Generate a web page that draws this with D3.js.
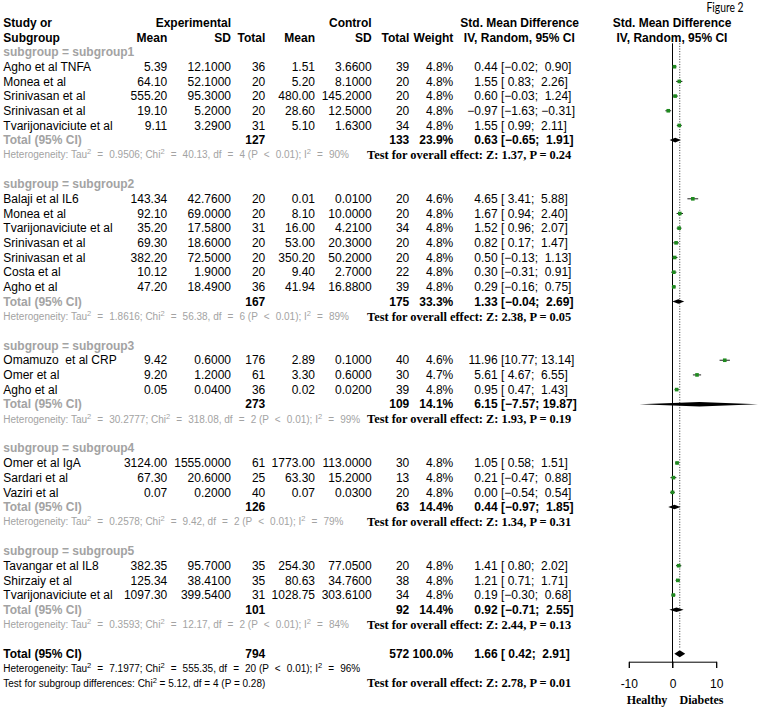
<!DOCTYPE html>
<html><head><meta charset="utf-8">
<script src="https://cdn.jsdelivr.net/npm/d3@7"></script>
<style>body{margin:0;background:#fff}svg{display:block}text{white-space:pre}</style>
</head><body><svg id="c" width="758" height="709"></svg>
<script>
// ---------- data ----------
const subgroups = ["subgroup1","subgroup2","subgroup3","subgroup4","subgroup5"];
const studies = ["Agho et al TNFA","Monea et al","Srinivasan et al","Srinivasan et al","Tvarijonaviciute et al",
  "Balaji et al IL6","Monea et al","Tvarijonaviciute et al","Srinivasan et al","Srinivasan et al","Costa et al","Agho et al",
  "Omamuzo  et al CRP","Omer et al","Agho et al",
  "Omer et al IgA","Sardari et al","Vaziri et al",
  "Tavangar et al IL8","Shirzaiy et al","Tvarijonaviciute et al"];
const studyGroup = [0,0,0,0,0, 1,1,1,1,1,1,1, 2,2,2, 3,3,3, 4,4,4];
const expMean = [5.39,64.10,555.20,19.10,9.11, 143.34,92.10,35.20,69.30,382.20,10.12,47.20, 9.42,9.20,0.05, 3124.00,67.30,0.07, 382.35,125.34,1097.30];
const expSD = [12.1,52.1,95.3,5.2,3.29, 42.76,69.0,17.58,18.6,72.5,1.9,18.49, 0.6,1.2,0.04, 1555.0,20.6,0.2, 95.7,38.41,399.54];
const expN = [36,20,20,20,31, 20,20,31,20,20,20,36, 176,61,36, 61,25,40, 35,35,31];
const ctlMean = [1.51,5.20,480.00,28.60,5.10, 0.01,8.10,16.00,53.00,350.20,9.40,41.94, 2.89,3.30,0.02, 1773.00,63.30,0.07, 254.30,80.63,1028.75];
const ctlSD = [3.66,8.1,145.2,12.5,1.63, 0.01,10.0,4.21,20.3,50.2,2.7,16.88, 0.1,0.6,0.02, 113.0,15.2,0.03, 77.05,34.76,303.61];
const ctlN = [39,20,20,20,34, 20,20,34,20,20,22,39, 40,30,39, 30,13,20, 20,38,34];
const weight = [4.8,4.8,4.8,4.8,4.8, 4.6,4.8,4.8,4.8,4.8,4.8,4.8, 4.6,4.7,4.8, 4.8,4.8,4.8, 4.8,4.8,4.8];
const smd = [0.44,1.55,0.60,-0.97,1.55, 4.65,1.67,1.52,0.82,0.50,0.30,0.29, 11.96,5.61,0.95, 1.05,0.21,0.00, 1.41,1.21,0.19];
const ciLow = [-0.02,0.83,-0.03,-1.63,0.99, 3.41,0.94,0.96,0.17,-0.13,-0.31,-0.16, 10.77,4.67,0.47, 0.58,-0.47,-0.54, 0.80,0.71,-0.30];
const ciHigh = [0.90,2.26,1.24,-0.31,2.11, 5.88,2.40,2.07,1.47,1.13,0.91,0.75, 13.14,6.55,1.43, 1.51,0.88,0.54, 2.02,1.71,0.68];

const sgExpN = [127,167,273,126,101];
const sgCtlN = [133,175,109,63,92];
const sgWeight = [23.9,33.3,14.1,14.4,14.4];
const sgSmd = [0.63,1.33,6.15,0.44,0.92];
const sgLow = [-0.65,-0.04,-7.57,-0.97,-0.71];
const sgHigh = [1.91,2.69,19.87,1.85,2.55];
const sgTau2 = ["0.9506","1.8616","30.2777","0.2578","0.3593"];
const sgChi2 = ["40.13","56.38","318.08","9.42","12.17"];
const sgDf = [4,6,2,2,2];
const sgI2 = [90,89,99,79,84];
const sgZ = ["1.37","2.38","1.93","1.34","2.44"];
const sgP = ["0.24","0.05","0.19","0.31","0.13"];

const totalExpN = 794, totalCtlN = 572, totalWeight = 100.0;
const totalSmd = 1.66, totalLow = 0.42, totalHigh = 2.91;
const totalTau2 = "7.1977", totalChi2 = "555.35", totalDf = 20, totalI2 = 96;
const totalZ = "2.78", totalP = "0.01";
const diffChi2 = "5.12", diffDf = 4, diffP = "0.28";

const axisTicks = [-10, 0, 10];
const axisLabels = ["Healthy", "Diabetes"];

// ---------- layout ----------
const svg = d3.select("#c");
const SANS = "'Liberation Sans', Arial, Helvetica, sans-serif";
const SERIF = "'Liberation Serif', 'Times New Roman', serif";
const GRAY = "#a3a3a3";
const y = d3.scaleLinear().domain([0, 45]).range([22.7, 683.1]);
const x = d3.scaleLinear().domain([-10, 10]).range([628.8, 716.2]);

const col = {label:3.3, expMean:167.3, expSD:231, expN:265.3, ctlMean:315, ctlSD:371.7, ctlN:409.3, weight:453.3, est:497.7, ci:501, test:367};

const f2 = d3.format(".2f"), f4 = d3.format(".4f"), f1 = d3.format(".1f");
const pad = v => { const s = f2(v); return s.length < 5 ? " " + s : s; };
const ciStr = (lo, hi) => "[" + pad(lo) + "; " + pad(hi) + "]";

function txt(xp, r, s, o = {}) {
  return svg.append("text").attr("x", xp).attr("y", y(r)).attr("dy", "0.35em")
    .attr("text-anchor", o.anchor || "start")
    .attr("font-family", o.family || SANS)
    .attr("font-size", o.size || 12)
    .attr("font-weight", o.bold ? "bold" : "normal")
    .attr("fill", o.color || "#000")
    .text(s);
}
// parts: {t} plain, {sup} superscript, {op} operator with math spacing
function mathText(r, parts, color, opGap) {
  const t = svg.append("text").attr("x", col.label).attr("y", y(r) + 3.6)
    .attr("font-family", SANS).attr("font-size", 10).attr("fill", color);
  let shift = 0, dx = 0;
  const add = (s, o = {}) => {
    const ts = t.append("tspan").text(s);
    if (shift || o.dy) ts.attr("dy", (o.dy || 0) + shift);
    if (dx || o.dx) ts.attr("dx", (o.dx || 0) + dx);
    if (o.size) ts.attr("font-size", o.size);
    shift = 0; dx = 0;
    return ts;
  };
  parts.forEach(p => {
    if (p.sup !== undefined) {
      add(p.sup, {dy: -4, size: 7.5});
      shift = 4;
    } else if (p.op !== undefined) {
      add(p.op, {dx: opGap});
      dx = opGap;
    } else {
      add(p.t);
    }
  });
}
function hetParts(tau2, chi2, df, i2) {
  return [{t:"Heterogeneity: Tau"}, {sup:"2"}, {op:" = "}, {t:tau2 + "; Chi"}, {sup:"2"}, {op:" = "},
    {t:chi2 + ", df"}, {op:" = "}, {t:df + " (P"}, {op:" < "}, {t:"0.01); I"}, {sup:"2"}, {op:" = "}, {t:i2 + "%"}];
}

// headers
txt(col.label, 0, "Study or", {bold:true});
txt(col.label, 1, "Subgroup", {bold:true});
txt(col.expSD, 0, "Experimental", {bold:true, anchor:"end"});
txt(col.ctlSD, 0, "Control", {bold:true, anchor:"end"});
[["expMean","Mean"],["expSD","SD"],["expN","Total"],["ctlMean","Mean"],["ctlSD","SD"],["ctlN","Total"],["weight","Weight"]]
  .forEach(([k, s]) => txt(col[k], 1, s, {bold:true, anchor:"end"}));
txt(519.7, 0, "Std. Mean Difference", {bold:true, anchor:"middle"});
txt(519.3, 1, "IV, Random, 95% CI", {bold:true, anchor:"middle"});
txt(x(0) - 0.5, 0, "Std. Mean Difference", {bold:true, anchor:"middle"});
txt(x(0) - 0.5, 1, "IV, Random, 95% CI", {bold:true, anchor:"middle"});
svg.append("text").attr("x", 706.5).attr("y", 12.2).attr("font-family", "Lato, 'Open Sans', sans-serif")
  .attr("font-size", 13).attr("textLength", 37).attr("lengthAdjust", "spacingAndGlyphs").text("Figure 2");

// reference lines
const plotTop = 43.3;
svg.append("line").attr("x1", x(0)).attr("x2", x(0)).attr("y1", plotTop).attr("y2", 668)
  .attr("stroke", "#000").attr("stroke-width", 1);
svg.append("line").attr("x1", x(totalSmd)).attr("x2", x(totalSmd)).attr("y1", plotTop).attr("y2", y(43) - 5)
  .attr("stroke", "#000").attr("stroke-width", 0.8).attr("stroke-dasharray", "1,1.6");

function diamond(r, est, lo, hi, h) {
  const yy = y(r);
  svg.append("path").attr("d", `M${x(lo)},${yy}L${x(est)},${yy - h}L${x(hi)},${yy}L${x(est)},${yy + h}Z`)
    .attr("fill", "#000");
}

let row = 2;
subgroups.forEach((sg, g) => {
  txt(col.label, row, "subgroup = " + sg, {bold:true, color:GRAY});
  row++;
  studies.forEach((name, i) => {
    if (studyGroup[i] !== g) return;
    txt(col.label, row, name);
    txt(col.expMean, row, f2(expMean[i]), {anchor:"end"});
    txt(col.expSD, row, f4(expSD[i]), {anchor:"end"});
    txt(col.expN, row, String(expN[i]), {anchor:"end"});
    txt(col.ctlMean, row, f2(ctlMean[i]), {anchor:"end"});
    txt(col.ctlSD, row, f4(ctlSD[i]), {anchor:"end"});
    txt(col.ctlN, row, String(ctlN[i]), {anchor:"end"});
    txt(col.weight, row, f1(weight[i]) + "%", {anchor:"end"});
    txt(col.est, row, f2(smd[i]), {anchor:"end"});
    txt(col.ci, row, ciStr(ciLow[i], ciHigh[i]));
    const yy = y(row);
    svg.append("line").attr("x1", x(ciLow[i])).attr("x2", x(ciHigh[i])).attr("y1", yy).attr("y2", yy)
      .attr("stroke", "#222").attr("stroke-width", 1);
    const s = 3.6;
    svg.append("rect").attr("x", x(smd[i]) - s / 2).attr("y", yy - s / 2).attr("width", s).attr("height", s)
      .attr("fill", "#1f8a1f");
    row++;
  });
  txt(col.label, row, "Total (95% CI)", {bold:true, color:GRAY});
  txt(col.expN, row, String(sgExpN[g]), {bold:true, anchor:"end"});
  txt(col.ctlN, row, String(sgCtlN[g]), {bold:true, anchor:"end"});
  txt(col.weight, row, f1(sgWeight[g]) + "%", {bold:true, anchor:"end"});
  txt(col.est, row, f2(sgSmd[g]), {bold:true, anchor:"end"});
  txt(col.ci, row, ciStr(sgLow[g], sgHigh[g]), {bold:true});
  diamond(row, sgSmd[g], sgLow[g], sgHigh[g], 2.3);
  row++;
  mathText(row, hetParts(sgTau2[g], sgChi2[g], sgDf[g], sgI2[g]), GRAY, 3.3);
  txt(col.test, row, "Test for overall effect: Z: " + sgZ[g] + ", P = " + sgP[g], {bold:true, family:SERIF, size:12.4});
  row += 2;
});

// overall
txt(col.label, row, "Total (95% CI)", {bold:true});
txt(col.expN, row, String(totalExpN), {bold:true, anchor:"end"});
txt(col.ctlN, row, String(totalCtlN), {bold:true, anchor:"end"});
txt(col.weight, row, f1(totalWeight) + "%", {bold:true, anchor:"end"});
txt(col.est, row, f2(totalSmd), {bold:true, anchor:"end"});
txt(col.ci, row, ciStr(totalLow, totalHigh), {bold:true});
diamond(row, totalSmd, totalLow, totalHigh, 3.5);
row++;
mathText(row, hetParts(totalTau2, totalChi2, totalDf, totalI2), "#000", 3.3);
row++;
mathText(row, [{t:"Test for subgroup differences: Chi"}, {sup:"2"}, {t:" = " + diffChi2 + ", df = " + diffDf + " (P = " + diffP + ")"}], "#000", 0);
txt(col.test, row, "Test for overall effect: Z: " + totalZ + ", P = " + totalP, {bold:true, family:SERIF, size:12.4});

// axis
const axY = 661.7;
const ax = svg.append("g").attr("transform", `translate(0,${axY})`)
  .call(d3.axisBottom(x).tickValues(axisTicks).tickSize(6.3).tickSizeOuter(6.3).tickPadding(11).tickFormat(d => String(d)));
ax.attr("font-family", SANS).attr("font-size", 12);
ax.selectAll("line,path").attr("stroke", "#000");
svg.append("text").attr("x", 647).attr("y", 699.3).attr("dy", "0.35em").attr("text-anchor", "middle")
  .attr("font-family", SERIF).attr("font-weight", "bold").attr("font-size", 12).text(axisLabels[0]);
svg.append("text").attr("x", 701.5).attr("y", 699.3).attr("dy", "0.35em").attr("text-anchor", "middle")
  .attr("font-family", SERIF).attr("font-weight", "bold").attr("font-size", 12).text(axisLabels[1]);
</script></body></html>
